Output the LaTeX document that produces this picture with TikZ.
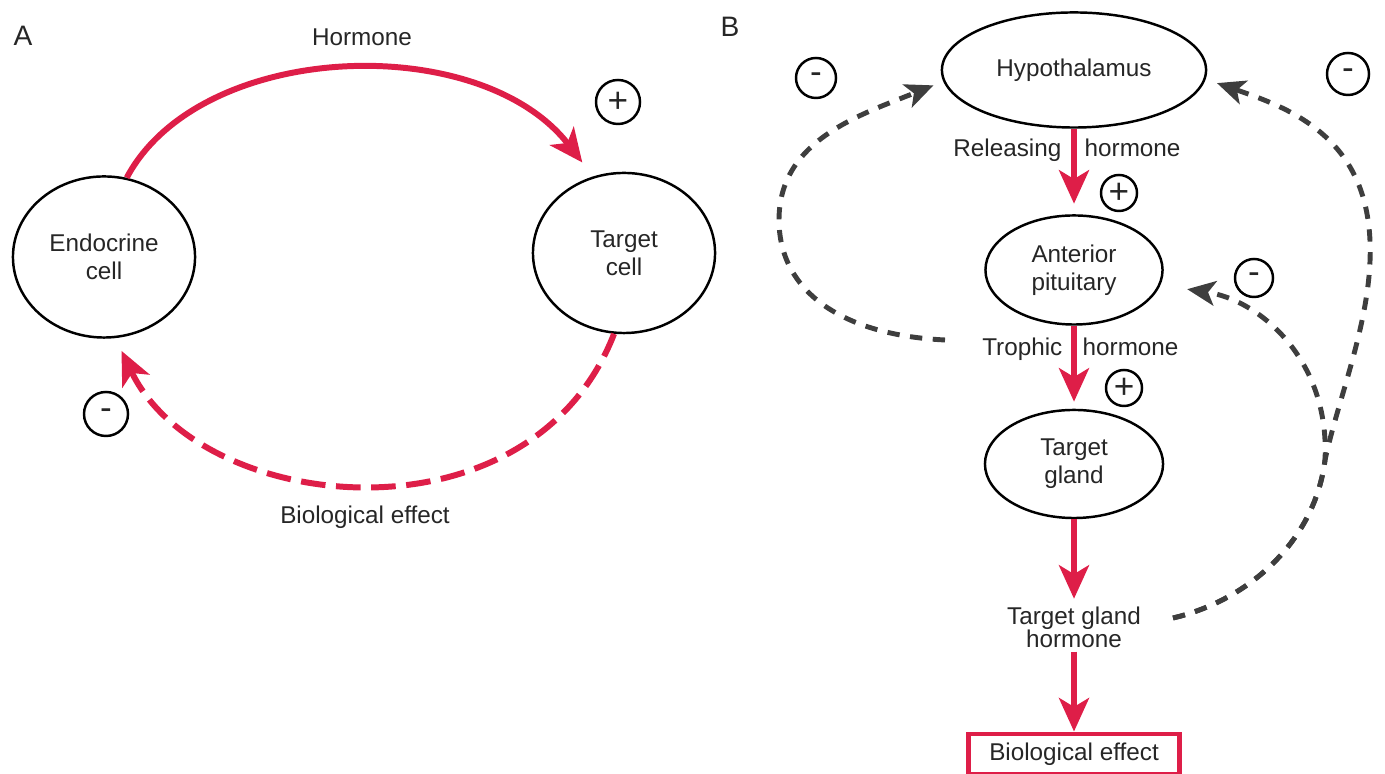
\documentclass[tikz,border=0pt]{standalone}
\usepackage{fontspec}
\setmainfont{Liberation Sans}
\usetikzlibrary{shapes.geometric, arrows.meta}
\definecolor{hormred}{RGB}{222,30,72}
\definecolor{loopgrey}{RGB}{62,62,62}

\begin{document}
\begin{tikzpicture}[x=0.01cm, y=-0.01cm,
        every node/.style={font=\fontsize{6.9}{8}\selectfont, text=black!85},
        cell/.style={ellipse, draw=black, line width=0.7pt, inner sep=0pt, align=center},
        sign/.style={circle, draw=black, line width=0.7pt, inner sep=0pt, font=\fontsize{10}{10}\selectfont},
        lbl/.style={inner sep=0pt},
        hormone/.style={draw=hormred, line width=1.7pt, -{Stealth[length=9.5pt, width=8.5pt, inset=2.5pt]}},
        effect/.style={hormone, dash pattern=on 7pt off 3pt},
        feedback/.style={draw=loopgrey, line width=1.4pt, dash pattern=on 3.5pt off 3pt, -{Stealth[length=8pt, width=7pt, inset=2pt]}}
    ]
        \useasboundingbox (0,0) rectangle (1385,774);

        % Panel A: simple loop
        \node[font=\fontsize{8}{8}\selectfont] (lblA) at (23,36) {A};
        \node[cell, minimum width=1.82cm, minimum height=1.61cm] (endo) at (104,257) {Endocrine\\cell};
        \node[cell, minimum width=1.82cm, minimum height=1.60cm] (target) at (624,253) {Target\\cell};
        \node (hormA) at (362,37) {Hormone};
        \node (bioA) at (365,517) {Biological effect};
        \node[sign, minimum size=0.44cm] (plusA) at (618,102) {+};
        \node[sign, minimum size=0.44cm] (minusA) at (106,414) {-};

        \draw[hormone, shorten >=5pt] (endo.74) .. controls (200,40) and (480,30) .. (target.112);
        \draw[effect, shorten >=4pt] (target.263) .. controls (530,550) and (200,515) .. (endo.278);

        % Panel B: axis
        \node[font=\fontsize{8}{8}\selectfont] (lblB) at (730,27) {B};
        \node[cell, minimum width=2.64cm, minimum height=1.15cm] (hypo) at (1074,70) {Hypothalamus};
        \node[cell, minimum width=1.77cm, minimum height=1.09cm] (pit) at (1074,270) {Anterior\\pituitary};
        \node[cell, minimum width=1.78cm, minimum height=1.08cm] (tgland) at (1074,464) {Target\\gland};
        \node[align=center, font=\fontsize{6.9}{6.6}\selectfont, inner sep=1pt] (tgh) at (1074,627) {Target gland\\hormone};
        \node[draw=hormred, line width=1.4pt, minimum width=2.11cm, minimum height=0.40cm, inner sep=0pt] (bioB) at (1074,754) {Biological effect};

        \node[lbl, anchor=base east] (relL) at (1062,157) {Releasing};
        \node[lbl, anchor=base west] (relR) at (1084,157) {hormone};
        \node[lbl, anchor=base east] (troL) at (1063,356) {Trophic};
        \node[lbl, anchor=base west] (troR) at (1082,356) {hormone};

        \node[sign, minimum size=0.36cm] (plusR) at (1119,193) {+};
        \node[sign, minimum size=0.36cm] (plusT) at (1124,388) {+};
        \node[sign, minimum size=0.40cm] (minusL) at (816,78) {-};
        \node[sign, minimum size=0.42cm] (minusR) at (1348,74) {-};
        \node[sign, minimum size=0.38cm] (minusP) at (1254,278) {-};

        \draw[hormone, shorten >=3pt] (hypo) -- (pit);
        \draw[hormone, shorten >=2pt] (pit) -- (tgland);
        \draw[hormone, shorten >=1pt] (tgland) -- (tgh);
        \draw[hormone] (tgh) -- (bioB);

        % Feedback loops
        \coordinate (fbtroph) at (945,340);
        \coordinate (fbtgh) at (1173,618);
        \draw[feedback, shorten >=3pt] (fbtroph) .. controls (840,335) and (779,290) .. (779,220)
            .. controls (779,140) and (860,115) .. (hypo.185);
        \draw[feedback, shorten >=3.4pt] (fbtgh) .. controls (1250,600) and (1315,540) .. (1325,460)
            .. controls (1340,390) and (1380,300) .. (1368,220)
            .. controls (1355,130) and (1280,105) .. (hypo.356);
        \draw[feedback, shorten >=7.7pt] (fbtgh) .. controls (1250,600) and (1315,540) .. (1325,460)
            .. controls (1330,360) and (1260,300) .. (pit.350);

    \end{tikzpicture}
\end{document}
